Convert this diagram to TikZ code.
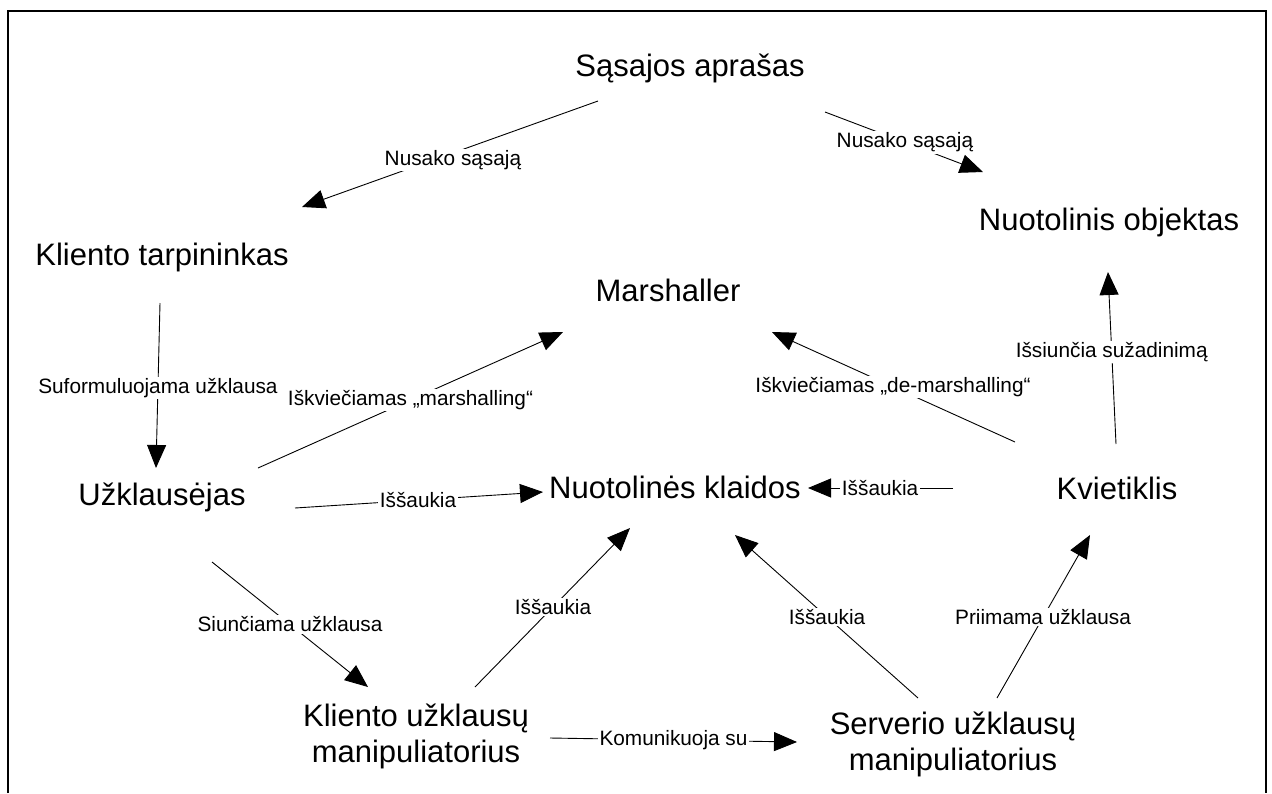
\documentclass[tikz,border=0pt]{standalone}
\usepackage{fontspec}
\setmainfont{Liberation Sans}
\usetikzlibrary{arrows.meta}
\begin{document}
\begin{tikzpicture}[x=1pt,y=-1pt,
  ent/.style={font=\fontsize{31}{36}\selectfont, align=center, inner sep=0pt},
  lbl/.style={font=\fontsize{20.8}{25}\selectfont, fill=white, inner sep=1.5pt},
  conn/.style={line width=0.9pt, -{Triangle[length=23pt,width=19pt]}}]
\useasboundingbox (0,0) rectangle (1272,793);
% open frame
\draw[line width=2pt] (8,793) -- (8,11) -- (1266,11) -- (1266,793);

% components
\node[ent] (S)   at (690,68)  {Sąsajos aprašas};
\node[ent] (NO)  at (1109,222) {Nuotolinis objektas};
\node[ent] (KT)  at (162,257) {Kliento tarpininkas};
\node[ent] (M)   at (668,290) {Marshaller};
\node[ent] (NK)  at (675,487) {Nuotolinės klaidos};
\node[ent] (U)   at (162,497) {Užklausėjas};
\node[ent] (KV)  at (1117,488) {Kvietiklis};
\node[ent] (KUM) at (416,736) {Kliento užklausų\\manipuliatorius};
\node[ent] (SUM) at (953,744) {Serverio užklausų\\manipuliatorius};

% relations
\draw[conn] ([shift={(-92,33)}]S.center) -- node[lbl,pos=0.49,yshift=-7pt]{Nusako sąsają} ([shift={(140,-50)}]KT.center);
\draw[conn] ([shift={(135,44)}]S.center) -- node[lbl,pos=0.506]{Nusako sąsają} ([shift={(-126,-50)}]NO.center);
\draw[conn] ([shift={(-2,46)}]KT.center) -- node[lbl,pos=0.515]{Suformuluojama užklausa} ([shift={(-6,-29)}]U.center);
\draw[conn] ([shift={(96,-29)}]U.center) -- node[lbl,pos=0.5]{Iškviečiamas „marshalling“} ([shift={(-105,42)}]M.center);
\draw[conn] ([shift={(133,11)}]U.center) -- node[lbl,pos=0.496]{Iššaukia} ([shift={(-132,5)}]NK.center);
\draw[conn] ([shift={(-164,0)}]KV.center) -- node[lbl,pos=0.503]{Iššaukia} ([shift={(133,1)}]NK.center);
\draw[conn] ([shift={(-102,-46)}]KV.center) -- node[lbl,pos=0.502]{Iškviečiamas „de-marshalling“} ([shift={(104,42)}]M.center);
\draw[conn] ([shift={(-1,-44)}]KV.center) -- node[lbl,pos=0.535]{Išsiunčia sužadinimą} ([shift={(-1,50)}]NO.center);
\draw[conn] ([shift={(50,65)}]U.center) -- node[lbl,pos=0.5]{Siunčiama užklausa} ([shift={(-48,-49)}]KUM.center);
\draw[conn] ([shift={(59,-49)}]KUM.center) -- node[lbl,pos=0.503]{Iššaukia} ([shift={(-45,41)}]NK.center);
\draw[conn] ([shift={(-35,-46)}]SUM.center) -- node[lbl,pos=0.497]{Iššaukia} ([shift={(60,48)}]NK.center);
\draw[conn] ([shift={(44,-46)}]SUM.center) -- node[lbl,pos=0.495]{Priimama užklausa} ([shift={(-27,47)}]KV.center);
\draw[conn] ([shift={(134,2)}]KUM.center) -- node[lbl,pos=0.5]{Komunikuoja su} ([shift={(-156,-2)}]SUM.center);
\end{tikzpicture}
\end{document}
